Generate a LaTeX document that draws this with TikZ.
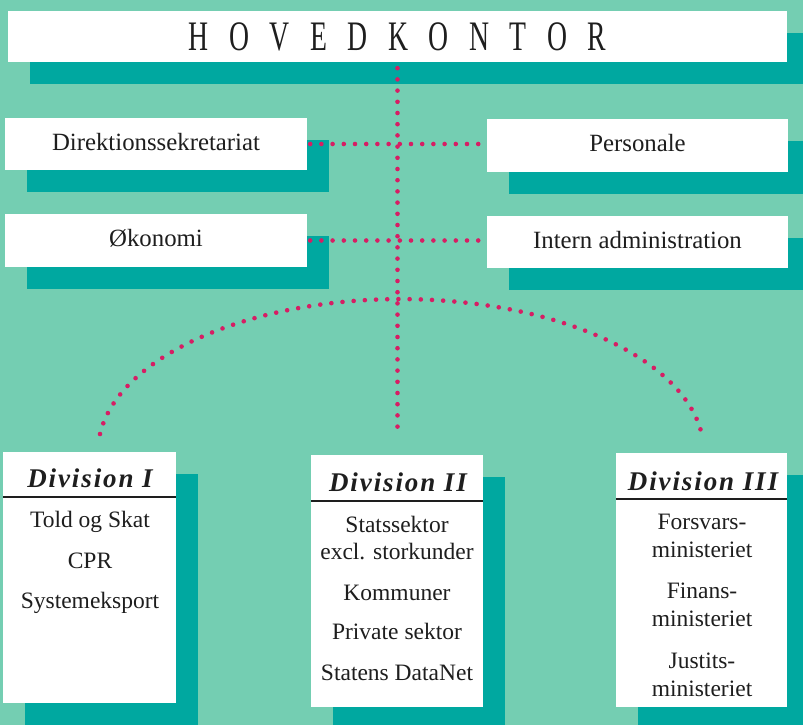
\documentclass[tikz,border=0pt]{standalone}
\usepackage{fontspec}
\setmainfont{Liberation Serif}
\usetikzlibrary{shadows}
\definecolor{bgmint}{RGB}{116,206,178}
\definecolor{shadeteal}{RGB}{0,168,160}
\definecolor{dotred}{RGB}{214,30,100}
\definecolor{inkc}{RGB}{30,30,30}
\begin{document}
\begin{tikzpicture}[x=1pt,y=-1pt,
  boxshadow/.style={drop shadow={shadow xshift=22pt,shadow yshift=-22pt,fill=shadeteal,opacity=1}},
  box/.style={fill=white,draw=none,inner sep=0pt,text=inkc,boxshadow,
    font=\fontsize{24.8pt}{30pt}\selectfont,text height=17pt,text depth=4.5pt},
  divbox/.style={fill=white,draw=none,inner sep=0pt,boxshadow},
  divhead/.style={anchor=base,inner sep=0pt,text=inkc,
    font=\fontsize{27pt}{30pt}\selectfont\bfseries\itshape\addfontfeatures{LetterSpace=7}},
  item/.style={anchor=base,inner sep=0pt,text=inkc,font=\fontsize{23.5pt}{28pt}\selectfont},
  hline/.style={draw=inkc,line width=1.4pt},
  dotline/.style={draw=dotred,line width=4.6pt,line cap=round,dash pattern=on 0pt off 11.2pt}
]
\clip (0,0) rectangle (803,725);
\fill[bgmint] (0,0) rectangle (803,725);

% head office
\node[box,minimum width=779pt,minimum height=51pt,text height=28pt,text depth=0pt] (hk) at (397.5,36.5)
  {\scalebox{0.66}[1]{\fontsize{42pt}{44pt}\selectfont H\kern31pt O\kern31pt V\kern31pt E\kern31pt D\kern31pt K\kern31pt O\kern31pt N\kern31pt T\kern31pt O\kern31pt R}};

% staff boxes
\node[box,minimum width=302pt,minimum height=52pt] (dir) at (156,144) {Direktionssekretariat};
\node[box,minimum width=302pt,minimum height=53pt] (oek) at (156,240.5) {Økonomi};
\node[box,minimum width=301pt,minimum height=53pt] (pers) at (637.5,145.5) {Personale};
\node[box,minimum width=301pt,minimum height=52pt] (int) at (637.5,242) {Intern administration};

% divisions
\node[divbox,minimum width=173pt,minimum height=251pt] (d1) at (89.5,577.5) {};
\node[divbox,minimum width=172pt,minimum height=252pt] (d2) at (397,581) {};
\node[divbox,minimum width=171pt,minimum height=254pt] (d3) at (701.5,580) {};

\draw[hline] (d1.west |- 0,497) -- (d1.east |- 0,497);
\draw[hline] (d2.west |- 0,501) -- (d2.east |- 0,501);
\draw[hline] (d3.west |- 0,499) -- (d3.east |- 0,499);

\node[divhead] (d1h) at (90,487) {Division I};
\node[divhead] (d2h) at (398,491) {Division II};
\node[divhead] (d3h) at (703,490) {Division III};

\node[item] (d1a) at (90,527) {Told og Skat};
\node[item] (d1b) at (90,568) {CPR};
\node[item] (d1c) at (90,608) {Systemeksport};

\node[item] (d2a) at (397,532) {Statssektor};
\node[item] (d2b) at (397,559) {excl. storkunder};
\node[item] (d2c) at (397,600) {Kommuner};
\node[item] (d2d) at (397,639) {Private sektor};
\node[item] (d2e) at (397,680) {Statens DataNet};

\node[item] (d3a) at (702,529) {Forsvars-};
\node[item] (d3b) at (702,557) {ministeriet};
\node[item] (d3c) at (702,598) {Finans-};
\node[item] (d3d) at (702,626) {ministeriet};
\node[item] (d3e) at (702,668) {Justits-};
\node[item] (d3f) at (702,696) {ministeriet};

% connectors
\coordinate (vend) at (397.5,434);
\coordinate (arcL) at (100,434);
\draw[dotline] ([yshift=-6pt]hk.south) -- (vend);
\draw[dotline] ([xshift=3pt]dir.east) -- ([xshift=-3pt]dir.east -| pers.west);
\draw[dotline] ([xshift=3pt]oek.east) -- ([xshift=-3pt]oek.east -| int.west);
\draw[dotline] (arcL) arc[start angle=173.2,end angle=4.9,x radius=303pt,y radius=153pt];
\end{tikzpicture}
\end{document}
